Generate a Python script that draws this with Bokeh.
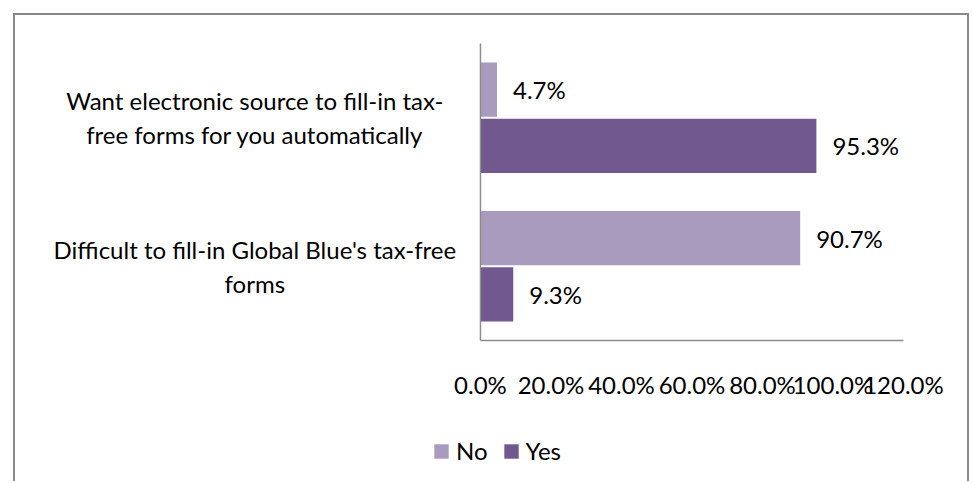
from bokeh.plotting import figure
from bokeh.models import ColumnDataSource, Range1d, Legend, LegendItem
from bokeh.embed import file_html
from bokeh.resources import INLINE
from bokeh.core.properties import value

# ---- data ----
categories = ["Want electronic source to fill-in tax-free forms for you automatically",
              "Difficult to fill-in Global Blue's tax-free forms"]
category_lines = [["Want electronic source to fill-in tax-", "free forms for you automatically"],
                  ["Difficult to fill-in Global Blue's tax-free", "forms"]]
no_values = [4.7, 90.7]
yes_values = [95.3, 9.3]
x_ticks = [0, 20, 40, 60, 80, 100, 120]
x_tick_labels = ["0.0%", "20.0%", "40.0%", "60.0%", "80.0%", "100.0%", "120.0%"]
series = ["No", "Yes"]
colors = ["#A99BBD", "#71588F"]

FONT = "Lato"
FS = "24px"
AXIS_COLOR = "#8c8c8c"

n = len(categories)
ypos = [n - 1 - i for i in range(n)]          # first category on top
bh = 0.365
off = 0.19
y_lo = -0.5                                     # bottom edge of the category band
y_hi = n - 0.5                                  # top edge of the category band

src = ColumnDataSource(dict(
    label=["\n".join(l) for l in category_lines],
    y=ypos,
    y_no=[y + off for y in ypos],
    y_yes=[y - off for y in ypos],
    no=no_values,
    yes=yes_values,
    no_lbl=[f"{v:.1f}%" for v in no_values],
    yes_lbl=[f"{v:.1f}%" for v in yes_values],
))
tick_src = ColumnDataSource(dict(x=x_ticks, y=[y_lo] * len(x_ticks), t=x_tick_labels))

p = figure(width=956, height=468, output_backend="svg", toolbar_location=None,
           x_range=Range1d(-131.9, 139.3), y_range=Range1d(-1.463, 1.6886),
           x_axis_location=None, y_axis_location=None,
           min_border_left=0, min_border_right=0, min_border_top=0, min_border_bottom=0,
           margin=(13, 0, 0, 13))
p.styles = {"border-left": "2px solid #898989", "border-top": "2px solid #898989",
            "border-right": "2px solid #898989"}
p.outline_line_color = None
p.background_fill_color = "white"
p.border_fill_color = "white"
p.grid.visible = False

r_no = p.hbar(y="y_no", left=0, right="no", height=bh,
              fill_color=colors[0], line_color=None, source=src)
r_yes = p.hbar(y="y_yes", left=0, right="yes", height=bh,
               fill_color=colors[1], line_color=None, source=src)

# axis lines
p.segment(x0=x_ticks[0], x1=x_ticks[0], y0=y_lo, y1=y_hi,
          line_color=AXIS_COLOR, line_width=1.5)
p.segment(x0=x_ticks[0], x1=x_ticks[-1], y0=y_lo, y1=y_lo,
          line_color=AXIS_COLOR, line_width=1.5)

# x tick labels
p.text(x="x", y="y", text="t", source=tick_src, y_offset=44,
       text_baseline="middle", text_align="center",
       text_font=value(FONT), text_font_size=FS, text_color="#000000")

# data labels
p.text(x="no", y="y_no", text="no_lbl", source=src,
       x_offset=16, text_baseline="middle", text_align="left",
       text_font=value(FONT), text_font_size=FS, text_color="#000000")
p.text(x="yes", y="y_yes", text="yes_lbl", source=src,
       x_offset=16, text_baseline="middle", text_align="left",
       text_font=value(FONT), text_font_size=FS, text_color="#000000")

# category labels (centred, two lines)
p.text(x=-64, y="y", text="label", source=src,
       text_baseline="middle", text_align="center", text_line_height=1.18,
       text_font=value(FONT), text_font_size=FS, text_color="#000000")

legend = Legend(items=[LegendItem(label=series[0], renderers=[r_no]),
                       LegendItem(label=series[1], renderers=[r_yes])],
                orientation="horizontal", location=(417, 18),
                glyph_width=18, glyph_height=18, label_standoff=6, spacing=14,
                padding=0, margin=0, border_line_color=None, background_fill_alpha=0,
                label_text_font=FONT, label_text_font_size=FS, label_text_color="#000000")
p.add_layout(legend)

open("out.html", "w").write(file_html(p, INLINE))
